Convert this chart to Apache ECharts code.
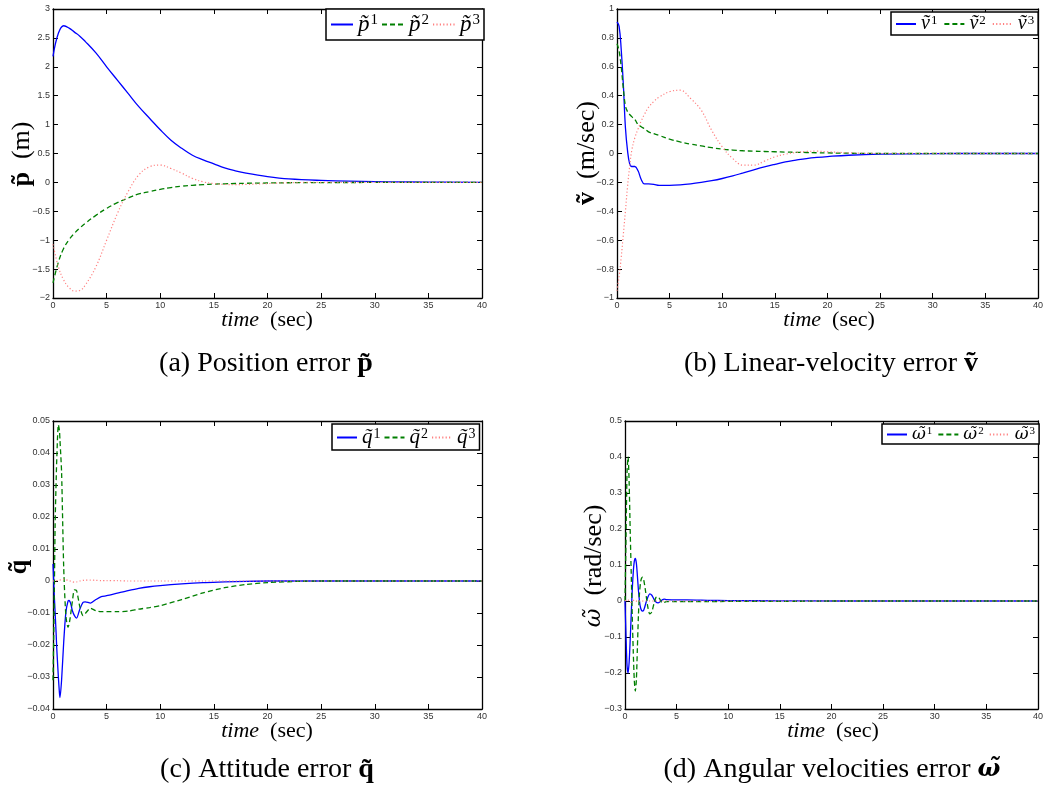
<!DOCTYPE html>
<html><head><meta charset="utf-8">
<script src="https://cdn.jsdelivr.net/npm/echarts@6/dist/echarts.min.js"></script>
<style>html,body{margin:0;padding:0;background:#fff}#c{width:1046px;height:798px}</style>
</head><body><div id="c"></div>
<script>
// ---- data: panel (a) position error ----
const tA = [0,0.5,1,1.5,2,2.5,3,4,5,6,7,8,9,10,11,12,13,14,15,16,17,18,20,22,25,30,35,40];
const p1 = [2.18,2.58,2.71,2.67,2.6,2.53,2.44,2.24,2.0,1.77,1.54,1.31,1.11,0.91,0.73,0.59,0.47,0.39,0.32,0.25,0.2,0.16,0.1,0.06,0.035,0.012,0.005,0];
const p2 = [-1.74,-1.38,-1.14,-0.99,-0.88,-0.79,-0.71,-0.57,-0.45,-0.35,-0.27,-0.2,-0.16,-0.12,-0.09,-0.065,-0.05,-0.038,-0.03,-0.024,-0.019,-0.015,-0.01,-0.006,-0.003,-0.001,0,0];
const p3 = [-1.07,-1.46,-1.69,-1.82,-1.88,-1.87,-1.78,-1.46,-1.0,-0.54,-0.16,0.13,0.27,0.3,0.24,0.16,0.07,0.01,-0.02,-0.035,-0.038,-0.035,-0.02,-0.005,0,0,0,0];
// ---- panel (b) linear velocity error ----
const tB = [0,0.2,0.4,0.6,0.8,1.0,1.2,1.4,1.7,2.0,2.3,2.6,3,3.5,4,5,6,7,8,9,10,11,12,13,14,15,16,17,18,19,20,22,25,30,35,40];
const v1 = [0.91,0.88,0.72,0.48,0.18,0.02,-0.07,-0.09,-0.09,-0.12,-0.18,-0.21,-0.21,-0.213,-0.22,-0.22,-0.217,-0.21,-0.2,-0.188,-0.173,-0.155,-0.134,-0.113,-0.093,-0.075,-0.058,-0.046,-0.035,-0.027,-0.021,-0.012,-0.005,-0.001,0,0];
const v2 = [0.76,0.71,0.6,0.45,0.33,0.29,0.27,0.255,0.235,0.2,0.185,0.172,0.15,0.137,0.125,0.1,0.08,0.065,0.053,0.04,0.03,0.024,0.019,0.016,0.014,0.012,0.01,0.008,0.007,0.005,0.004,0.002,0,0,0,0];
const v3 = [-0.95,-0.85,-0.72,-0.56,-0.4,-0.23,-0.09,0.02,0.11,0.17,0.225,0.27,0.32,0.36,0.39,0.428,0.438,0.38,0.3,0.16,0.046,-0.035,-0.081,-0.081,-0.053,-0.023,-0.005,0.007,0.014,0.016,0.012,0.005,0,0,0,0];
// ---- panel (c) attitude error ----
const tC = [0,0.1,0.2,0.3,0.35,0.5,0.6,0.65,0.8,1.0,1.2,1.4,1.5,1.6,1.7,1.8,2.0,2.2,2.5,2.8,3.0,3.5,4,4.5,5,6,7,8,9,10,12,14,16,18,20,23,25,30,35,40];
const q1 = [0.0053,-0.003,-0.01,-0.017,-0.021,-0.03,-0.035,-0.0364,-0.031,-0.019,-0.0098,-0.0063,-0.0061,-0.0066,-0.0077,-0.0092,-0.0108,-0.0116,-0.0088,-0.0067,-0.0065,-0.0069,-0.0058,-0.0049,-0.0046,-0.0038,-0.003,-0.0023,-0.0018,-0.00145,-0.0009,-0.0005,-0.0003,-0.0001,0,0,0,0,0,0];
const q2 = [-0.031,-0.01,0.018,0.032,0.038,0.0488,0.047,0.044,0.034,0.004,-0.0108,-0.0145,-0.0135,-0.0115,-0.009,-0.0065,-0.0028,-0.003,-0.008,-0.0108,-0.0102,-0.0085,-0.0093,-0.0096,-0.0096,-0.0096,-0.0094,-0.0088,-0.0083,-0.0077,-0.0058,-0.0037,-0.0021,-0.0011,-0.0005,-0.0001,0,0,0,0];
const q3 = [0,0,0.0001,0.0001,0.0001,0.0002,0.0003,0.0003,0.0004,0.0005,0.0004,0.0002,0.0001,0,-0.0001,-0.0002,-0.0004,-0.0003,0,0.0002,0.0003,0.0003,0.0002,0.0001,0.0001,0.0001,0,0,0,0,0,0,0,0,0,0,0,0,0,0];
// ---- panel (d) angular velocity error ----
const tD = [0,0.1,0.2,0.3,0.4,0.5,0.6,0.7,0.8,0.9,1.0,1.1,1.2,1.3,1.4,1.5,1.6,1.7,1.8,1.9,2.0,2.2,2.4,2.6,2.8,3.0,3.2,3.4,3.6,3.8,4.0,5,6,8,10,15,20,25,30,35,40];
const w1 = [0,-0.1,-0.18,-0.2,-0.17,-0.11,-0.04,0.03,0.08,0.11,0.118,0.105,0.07,0.03,0.0,-0.018,-0.026,-0.028,-0.026,-0.018,-0.008,0.01,0.02,0.016,0.005,-0.003,-0.005,-0.002,0.003,0.005,0.004,0.003,0.003,0.002,0.001,0.0005,0,0,0,0,0];
const w2 = [0,0.18,0.36,0.4,0.33,0.2,0.08,-0.04,-0.14,-0.22,-0.25,-0.22,-0.13,-0.04,0.02,0.05,0.063,0.066,0.06,0.045,0.025,-0.015,-0.036,-0.03,-0.008,0.01,0.012,0.004,-0.005,-0.004,-0.002,-0.002,-0.002,-0.002,-0.001,-0.001,0,0,0,0,0];
const w3 = [0,0.002,0.004,0.003,0,-0.003,-0.004,-0.002,0.001,0.003,0.002,0,-0.002,-0.002,0,0.001,0.001,0,0,0,0,0,0,0,0,0,0,0,0,0,0,0,0,0,0,0,0,0,0,0,0];
// ---- axes ----
const xTicks = {min: 0, max: 40, interval: 5};
const yRanges = [
  {min: -2, max: 3, interval: 0.5},
  {min: -1, max: 1, interval: 0.2},
  {min: -0.04, max: 0.05, interval: 0.01},
  {min: -0.3, max: 0.5, interval: 0.1}
];

const grids = [
  {left: 53, top: 9, width: 429, height: 289},
  {left: 617, top: 9, width: 425, height: 289},
  {left: 53, top: 421, width: 429, height: 288},
  {left: 625, top: 421, width: 417, height: 288}
];

const BLUE = '#0000ff', GREEN = '#007f00', PINK = '#ff8080';
const SERIF = 'Liberation Serif';
const GREEK = 'DejaVu Serif';
const fmt = v => String(parseFloat(Number(v).toFixed(6))).replace('-', '\u2212');

const axLine = {show: true, onZero: false, lineStyle: {color: '#000', width: 1.3}};
const tick = {show: true, inside: true, length: 5, lineStyle: {color: '#000', width: 1}};
const tickLabel = {fontSize: 9, color: '#333', fontFamily: 'Liberation Sans'};

const xAxis = [], yAxis = [];
for (let i = 0; i < 4; i++) {
  xAxis.push({type: 'value', gridIndex: i, position: 'bottom', ...xTicks, axisLine: axLine, axisTick: tick,
    splitLine: {show: false}, axisLabel: {...tickLabel, margin: 3, formatter: fmt, showMaxLabel: true}});
  yAxis.push({type: 'value', gridIndex: i, position: 'left', ...yRanges[i], axisLine: axLine, axisTick: tick,
    splitLine: {show: false}, axisLabel: {...tickLabel, margin: 3, formatter: fmt}});
}
for (let i = 0; i < 4; i++) {
  xAxis.push({type: 'value', gridIndex: i, position: 'top', ...xTicks, axisLine: axLine, axisTick: tick,
    splitLine: {show: false}, axisLabel: {show: false}});
  yAxis.push({type: 'value', gridIndex: i, position: 'right', ...yRanges[i], axisLine: axLine, axisTick: tick,
    splitLine: {show: false}, axisLabel: {show: false}});
}

function mk(name, idx, t, v, color, type, width) {
  return {name, type: 'line', xAxisIndex: idx, yAxisIndex: idx, data: t.map((x, i) => [x, v[i]]),
    symbol: 'none', showSymbol: false, smooth: idx < 2 ? 0.4 : 0.25, animation: false,
    lineStyle: {color, width, type}, itemStyle: {color}};
}
const DASH = [5, 3], DOT = [1.2, 2.2];
const series = [
  mk('p1', 0, tA, p1, BLUE, 'solid', 1.3), mk('p2', 0, tA, p2, GREEN, DASH, 1.3), mk('p3', 0, tA, p3, PINK, DOT, 1.2),
  mk('v1', 1, tB, v1, BLUE, 'solid', 1.3), mk('v2', 1, tB, v2, GREEN, DASH, 1.3), mk('v3', 1, tB, v3, PINK, DOT, 1.2),
  mk('q1', 2, tC, q1, BLUE, 'solid', 1.3), mk('q2', 2, tC, q2, GREEN, DASH, 1.3), mk('q3', 2, tC, q3, PINK, DOT, 1.2),
  mk('w1', 3, tD, w1, BLUE, 'solid', 1.3), mk('w2', 3, tD, w2, GREEN, DASH, 1.3), mk('w3', 3, tD, w3, PINK, DOT, 1.2)
];

const sym = {p: 'p\u0303', v: 'v\u0303', q: 'q\u0303', w: '\u03c9\u0303'};
function legend(letter, left, top, fs, pad, iw, gap) {
  const fam = letter === 'w' ? GREEK : SERIF;
  return {
    left, top, orient: 'horizontal', selectedMode: false,
    data: [letter + '1', letter + '2', letter + '3'],
    itemWidth: iw, itemHeight: 10, itemGap: gap, padding: pad,
    itemStyle: {opacity: 0},
    borderColor: '#000', borderWidth: 1.5, backgroundColor: '#fff',
    formatter: n => '{m|' + sym[n[0]] + '}{s|' + n[1] + '}',
    textStyle: {
      rich: {
        m: {fontFamily: fam, fontStyle: 'italic', fontSize: fs, lineHeight: fs, color: '#000'},
        s: {fontFamily: SERIF, fontSize: Math.round(fs * 0.65), lineHeight: Math.round(fs * 0.65), verticalAlign: 'top', padding: [0, 0, 0, 1], color: '#000'}
      }
    }
  };
}
const legends = [
  legend('p', 326, 9, 23, [4, 4, 4, 4], 22, 3),
  legend('v', 891, 12, 20, [2, 4, 1, 4], 20, 6),
  legend('q', 332, 424, 21, [3, 4, 2, 4], 20, 3),
  legend('w', 882, 424, 17, [2, 4, 1, 4], 20, 5)
];

function txt(x, y, rich, parts, rot) {
  return {type: 'text', x, y, rotation: rot || 0, silent: true,
    style: {text: parts, rich, align: 'center', verticalAlign: 'middle'}};
}
const xnRich = {
  i: {fontFamily: SERIF, fontStyle: 'italic', fontSize: 22, color: '#000'},
  n: {fontFamily: SERIF, fontSize: 22, color: '#000'}
};
const capRich = {
  n: {fontFamily: SERIF, fontSize: 28, color: '#000'},
  b: {fontFamily: SERIF, fontSize: 28, fontWeight: 'bold', color: '#000'},
  bi: {fontFamily: GREEK, fontSize: 24, fontWeight: 'bold', fontStyle: 'italic', color: '#000'}
};
const ytRich = {
  n: {fontFamily: SERIF, fontSize: 26, color: '#000'},
  b: {fontFamily: SERIF, fontSize: 26, fontWeight: 'bold', color: '#000'},
  i: {fontFamily: GREEK, fontSize: 23, fontStyle: 'italic', color: '#000'}
};
const R = Math.PI / 2;
const graphic = [
  txt(267, 320, xnRich, '{i|time}{n|  (sec)}'),
  txt(829, 320, xnRich, '{i|time}{n|  (sec)}'),
  txt(267, 731, xnRich, '{i|time}{n|  (sec)}'),
  txt(833, 731, xnRich, '{i|time}{n|  (sec)}'),
  txt(266, 364, capRich, '{n|(a) Position error }{b|p\u0303}'),
  txt(831, 364, capRich, '{n|(b) Linear-velocity error }{b|v\u0303}'),
  txt(267, 770, capRich, '{n|(c) Attitude error }{b|q\u0303}'),
  txt(832, 770, capRich, '{n|(d) Angular velocities error }{bi|\u03c9\u0303}'),
  txt(22, 154, ytRich, '{b|p\u0303}{n|  (m)}', R),
  txt(587, 153, ytRich, '{b|v\u0303}{n|  (m/sec)}', R),
  txt(19, 567, ytRich, '{b|q\u0303}', R),
  txt(594, 566, ytRich, '{i|\u03c9\u0303}{n|  (rad/sec)}', R)
];

const chart = echarts.init(document.getElementById('c'), null, {renderer: 'canvas'});
chart.setOption({
  animation: false,
  backgroundColor: '#fff',
  grid: grids,
  xAxis, yAxis, series,
  legend: legends,
  graphic
});
</script></body></html>
